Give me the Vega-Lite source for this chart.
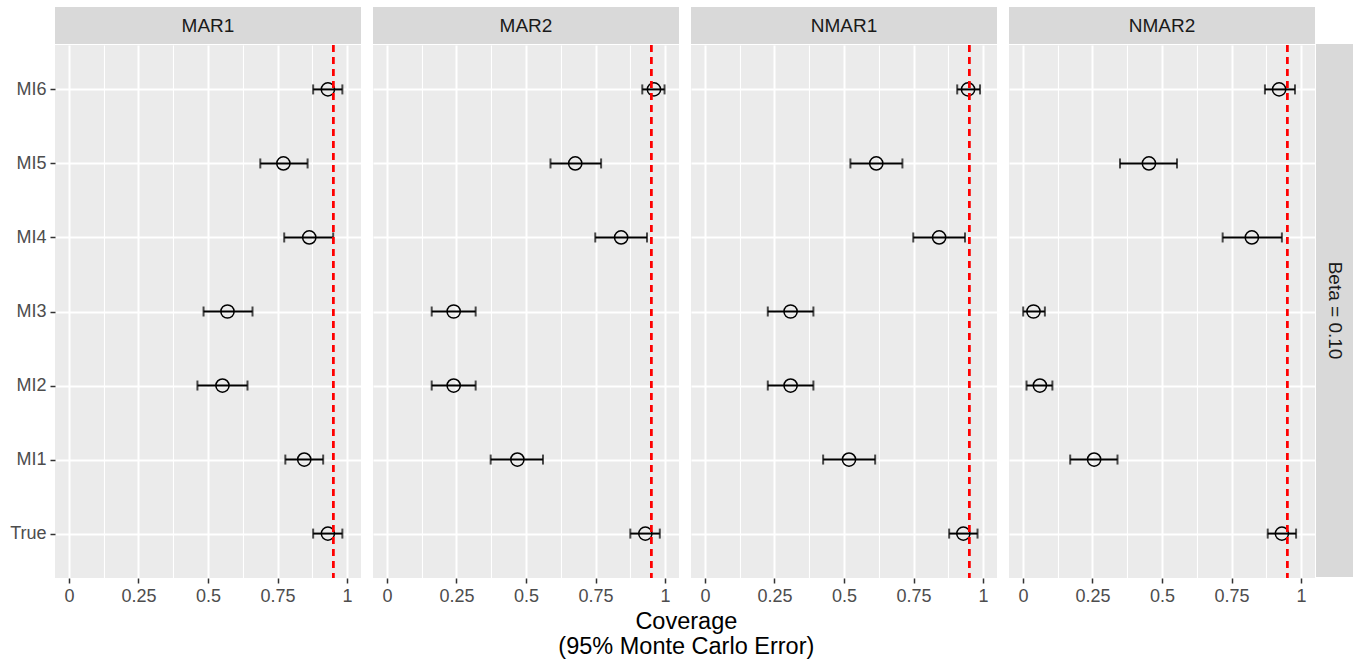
{
  "$schema": "https://vega.github.io/schema/vega-lite/v6.json",
  "background": "white",
  "padding": {"left": 9, "top": 7, "right": 0, "bottom": 3},
  "datasets": {
    "cov": [
      {"panel": "MAR1", "method": "MI6", "est": 0.931, "lo": 0.878, "hi": 0.983},
      {"panel": "MAR1", "method": "MI5", "est": 0.771, "lo": 0.688, "hi": 0.858},
      {"panel": "MAR1", "method": "MI4", "est": 0.864, "lo": 0.774, "hi": 0.95},
      {"panel": "MAR1", "method": "MI3", "est": 0.57, "lo": 0.484, "hi": 0.66},
      {"panel": "MAR1", "method": "MI2", "est": 0.552, "lo": 0.462, "hi": 0.642},
      {"panel": "MAR1", "method": "MI1", "est": 0.846, "lo": 0.778, "hi": 0.914},
      {"panel": "MAR1", "method": "True", "est": 0.931, "lo": 0.878, "hi": 0.983},
      {"panel": "MAR2", "method": "MI6", "est": 0.96, "lo": 0.918, "hi": 0.998},
      {"panel": "MAR2", "method": "MI5", "est": 0.677, "lo": 0.588, "hi": 0.77},
      {"panel": "MAR2", "method": "MI4", "est": 0.842, "lo": 0.749, "hi": 0.935},
      {"panel": "MAR2", "method": "MI3", "est": 0.24, "lo": 0.161, "hi": 0.319},
      {"panel": "MAR2", "method": "MI2", "est": 0.24, "lo": 0.161, "hi": 0.319},
      {"panel": "MAR2", "method": "MI1", "est": 0.469, "lo": 0.373, "hi": 0.561},
      {"panel": "MAR2", "method": "True", "est": 0.929, "lo": 0.875, "hi": 0.981},
      {"panel": "NMAR1", "method": "MI6", "est": 0.946, "lo": 0.907, "hi": 0.989},
      {"panel": "NMAR1", "method": "MI5", "est": 0.616, "lo": 0.523, "hi": 0.71},
      {"panel": "NMAR1", "method": "MI4", "est": 0.842, "lo": 0.749, "hi": 0.935},
      {"panel": "NMAR1", "method": "MI3", "est": 0.308, "lo": 0.226, "hi": 0.39},
      {"panel": "NMAR1", "method": "MI2", "est": 0.308, "lo": 0.226, "hi": 0.39},
      {"panel": "NMAR1", "method": "MI1", "est": 0.518, "lo": 0.425, "hi": 0.612},
      {"panel": "NMAR1", "method": "True", "est": 0.929, "lo": 0.878, "hi": 0.98},
      {"panel": "NMAR2", "method": "MI6", "est": 0.921, "lo": 0.87, "hi": 0.978},
      {"panel": "NMAR2", "method": "MI5", "est": 0.453, "lo": 0.349, "hi": 0.554},
      {"panel": "NMAR2", "method": "MI4", "est": 0.823, "lo": 0.718, "hi": 0.931},
      {"panel": "NMAR2", "method": "MI3", "est": 0.038, "lo": 0.001, "hi": 0.079},
      {"panel": "NMAR2", "method": "MI2", "est": 0.061, "lo": 0.013, "hi": 0.106},
      {"panel": "NMAR2", "method": "MI1", "est": 0.256, "lo": 0.17, "hi": 0.34},
      {"panel": "NMAR2", "method": "True", "est": 0.931, "lo": 0.88, "hi": 0.982}
    ]
  },
  "title": {
    "text": ["Coverage", "(95% Monte Carlo Error)"],
    "orient": "bottom",
    "anchor": "middle",
    "fontSize": 23.5,
    "fontWeight": "normal",
    "color": "black",
    "lineHeight": 25,
    "offset": 5,
    "dx": 5
  },
  "hconcat": [
    {
      "hconcat": [
        {
          "vconcat": [
            {
              "width": 306, "height": 37,
              "view": {"fill": "#d9d9d9", "stroke": null},
              "data": {"values": [{"label": "MAR1"}]},
              "mark": {"type": "text", "fontSize": 19, "color": "#1a1a1a"},
              "encoding": {"text": {"field": "label"}}
            },
            {
              "width": 306, "height": 533,
              "view": {"fill": "#ebebeb", "stroke": null},
              "data": {"name": "cov"},
              "transform": [{"filter": "datum.panel === 'MAR1'"}],
              "resolve": {"axis": {"x": "independent"}},
              "encoding": {
                "y": {"field": "method", "type": "nominal", "sort": ["MI6", "MI5", "MI4", "MI3", "MI2", "MI1", "True"], "scale": {"type": "point", "padding": 0.6}, "axis": {"title": null, "labels": true, "ticks": true, "grid": true}}
              },
              "layer": [
                {"mark": {"type": "tick", "color": "black", "size": 10, "thickness": 2}, "encoding": {"x": {"field": "lo", "type": "quantitative", "scale": {"domain": [-0.05, 1.05], "nice": false, "zero": false}, "axis": {"orient": "top", "title": null, "values": [0.125, 0.375, 0.625, 0.875], "labels": false, "ticks": false, "domain": false, "grid": true, "gridWidth": 1.1}}}},
                {"mark": {"type": "rule", "color": "black", "strokeWidth": 2}, "encoding": {"x": {"field": "lo", "type": "quantitative", "axis": {"orient": "bottom", "title": null, "values": [0, 0.25, 0.5, 0.75, 1], "labelExpr": "toString(datum.value)", "grid": true, "gridWidth": 2}}, "x2": {"field": "hi"}}},
                {"mark": {"type": "tick", "color": "black", "size": 10, "thickness": 2}, "encoding": {"x": {"field": "hi", "type": "quantitative", "axis": null}}},
                {"mark": {"type": "point", "shape": "circle", "filled": false, "stroke": "black", "strokeWidth": 1.5, "size": 175, "opacity": 1}, "encoding": {"x": {"field": "est", "type": "quantitative", "axis": null}}},
                {"mark": {"type": "rule", "color": "#ff0000", "strokeWidth": 2, "strokeDash": [7, 5]}, "encoding": {"x": {"datum": 0.95, "axis": null}, "y": null}}
              ]
            }
          ]
        },
        {
          "vconcat": [
            {
              "width": 306, "height": 37,
              "view": {"fill": "#d9d9d9", "stroke": null},
              "data": {"values": [{"label": "MAR2"}]},
              "mark": {"type": "text", "fontSize": 19, "color": "#1a1a1a"},
              "encoding": {"text": {"field": "label"}}
            },
            {
              "width": 306, "height": 533,
              "view": {"fill": "#ebebeb", "stroke": null},
              "data": {"name": "cov"},
              "transform": [{"filter": "datum.panel === 'MAR2'"}],
              "resolve": {"axis": {"x": "independent"}},
              "encoding": {
                "y": {"field": "method", "type": "nominal", "sort": ["MI6", "MI5", "MI4", "MI3", "MI2", "MI1", "True"], "scale": {"type": "point", "padding": 0.6}, "axis": {"title": null, "labels": false, "ticks": false, "grid": true}}
              },
              "layer": [
                {"mark": {"type": "tick", "color": "black", "size": 10, "thickness": 2}, "encoding": {"x": {"field": "lo", "type": "quantitative", "scale": {"domain": [-0.05, 1.05], "nice": false, "zero": false}, "axis": {"orient": "top", "title": null, "values": [0.125, 0.375, 0.625, 0.875], "labels": false, "ticks": false, "domain": false, "grid": true, "gridWidth": 1.1}}}},
                {"mark": {"type": "rule", "color": "black", "strokeWidth": 2}, "encoding": {"x": {"field": "lo", "type": "quantitative", "axis": {"orient": "bottom", "title": null, "values": [0, 0.25, 0.5, 0.75, 1], "labelExpr": "toString(datum.value)", "grid": true, "gridWidth": 2}}, "x2": {"field": "hi"}}},
                {"mark": {"type": "tick", "color": "black", "size": 10, "thickness": 2}, "encoding": {"x": {"field": "hi", "type": "quantitative", "axis": null}}},
                {"mark": {"type": "point", "shape": "circle", "filled": false, "stroke": "black", "strokeWidth": 1.5, "size": 175, "opacity": 1}, "encoding": {"x": {"field": "est", "type": "quantitative", "axis": null}}},
                {"mark": {"type": "rule", "color": "#ff0000", "strokeWidth": 2, "strokeDash": [7, 5]}, "encoding": {"x": {"datum": 0.95, "axis": null}, "y": null}}
              ]
            }
          ]
        },
        {
          "vconcat": [
            {
              "width": 306, "height": 37,
              "view": {"fill": "#d9d9d9", "stroke": null},
              "data": {"values": [{"label": "NMAR1"}]},
              "mark": {"type": "text", "fontSize": 19, "color": "#1a1a1a"},
              "encoding": {"text": {"field": "label"}}
            },
            {
              "width": 306, "height": 533,
              "view": {"fill": "#ebebeb", "stroke": null},
              "data": {"name": "cov"},
              "transform": [{"filter": "datum.panel === 'NMAR1'"}],
              "resolve": {"axis": {"x": "independent"}},
              "encoding": {
                "y": {"field": "method", "type": "nominal", "sort": ["MI6", "MI5", "MI4", "MI3", "MI2", "MI1", "True"], "scale": {"type": "point", "padding": 0.6}, "axis": {"title": null, "labels": false, "ticks": false, "grid": true}}
              },
              "layer": [
                {"mark": {"type": "tick", "color": "black", "size": 10, "thickness": 2}, "encoding": {"x": {"field": "lo", "type": "quantitative", "scale": {"domain": [-0.05, 1.05], "nice": false, "zero": false}, "axis": {"orient": "top", "title": null, "values": [0.125, 0.375, 0.625, 0.875], "labels": false, "ticks": false, "domain": false, "grid": true, "gridWidth": 1.1}}}},
                {"mark": {"type": "rule", "color": "black", "strokeWidth": 2}, "encoding": {"x": {"field": "lo", "type": "quantitative", "axis": {"orient": "bottom", "title": null, "values": [0, 0.25, 0.5, 0.75, 1], "labelExpr": "toString(datum.value)", "grid": true, "gridWidth": 2}}, "x2": {"field": "hi"}}},
                {"mark": {"type": "tick", "color": "black", "size": 10, "thickness": 2}, "encoding": {"x": {"field": "hi", "type": "quantitative", "axis": null}}},
                {"mark": {"type": "point", "shape": "circle", "filled": false, "stroke": "black", "strokeWidth": 1.5, "size": 175, "opacity": 1}, "encoding": {"x": {"field": "est", "type": "quantitative", "axis": null}}},
                {"mark": {"type": "rule", "color": "#ff0000", "strokeWidth": 2, "strokeDash": [7, 5]}, "encoding": {"x": {"datum": 0.95, "axis": null}, "y": null}}
              ]
            }
          ]
        },
        {
          "vconcat": [
            {
              "width": 306, "height": 37,
              "view": {"fill": "#d9d9d9", "stroke": null},
              "data": {"values": [{"label": "NMAR2"}]},
              "mark": {"type": "text", "fontSize": 19, "color": "#1a1a1a"},
              "encoding": {"text": {"field": "label"}}
            },
            {
              "width": 306, "height": 533,
              "view": {"fill": "#ebebeb", "stroke": null},
              "data": {"name": "cov"},
              "transform": [{"filter": "datum.panel === 'NMAR2'"}],
              "resolve": {"axis": {"x": "independent"}},
              "encoding": {
                "y": {"field": "method", "type": "nominal", "sort": ["MI6", "MI5", "MI4", "MI3", "MI2", "MI1", "True"], "scale": {"type": "point", "padding": 0.6}, "axis": {"title": null, "labels": false, "ticks": false, "grid": true}}
              },
              "layer": [
                {"mark": {"type": "tick", "color": "black", "size": 10, "thickness": 2}, "encoding": {"x": {"field": "lo", "type": "quantitative", "scale": {"domain": [-0.05, 1.05], "nice": false, "zero": false}, "axis": {"orient": "top", "title": null, "values": [0.125, 0.375, 0.625, 0.875], "labels": false, "ticks": false, "domain": false, "grid": true, "gridWidth": 1.1}}}},
                {"mark": {"type": "rule", "color": "black", "strokeWidth": 2}, "encoding": {"x": {"field": "lo", "type": "quantitative", "axis": {"orient": "bottom", "title": null, "values": [0, 0.25, 0.5, 0.75, 1], "labelExpr": "toString(datum.value)", "grid": true, "gridWidth": 2}}, "x2": {"field": "hi"}}},
                {"mark": {"type": "tick", "color": "black", "size": 10, "thickness": 2}, "encoding": {"x": {"field": "hi", "type": "quantitative", "axis": null}}},
                {"mark": {"type": "point", "shape": "circle", "filled": false, "stroke": "black", "strokeWidth": 1.5, "size": 175, "opacity": 1}, "encoding": {"x": {"field": "est", "type": "quantitative", "axis": null}}},
                {"mark": {"type": "rule", "color": "#ff0000", "strokeWidth": 2, "strokeDash": [7, 5]}, "encoding": {"x": {"datum": 0.95, "axis": null}, "y": null}}
              ]
            }
          ]
        }
      ],
      "spacing": 12
    },
    {
      "vconcat": [
        {
          "width": 37, "height": 37,
          "data": {"values": [{"label": ""}]},
          "mark": {"type": "text"},
          "encoding": {"text": {"field": "label"}}
        },
        {
          "width": 37, "height": 533,
          "view": {"fill": "#d9d9d9", "stroke": null},
          "data": {"values": [{"label": "Beta = 0.10"}]},
          "mark": {"type": "text", "fontSize": 19, "color": "#1a1a1a", "angle": 90},
          "encoding": {"text": {"field": "label"}}
        }
      ],
      "spacing": 0
    }
  ],
  "spacing": 1,
  "config": {
    "font": "Liberation Sans",
    "view": {"stroke": null},
    "concat": {"spacing": 0},
    "axis": {
      "domain": false,
      "grid": true,
      "gridColor": "white",
      "gridOpacity": 1,
      "gridWidth": 2,
      "tickColor": "#333333",
      "tickWidth": 1.5,
      "tickSize": 5,
      "labelColor": "#4d4d4d",
      "labelFontSize": 18,
      "labelPadding": 4
    },
    "axisX": {
      "labelFlush": false,
      "labelOverlap": false
    },
    "axisY": {"labelPadding": 4}
  }
}
